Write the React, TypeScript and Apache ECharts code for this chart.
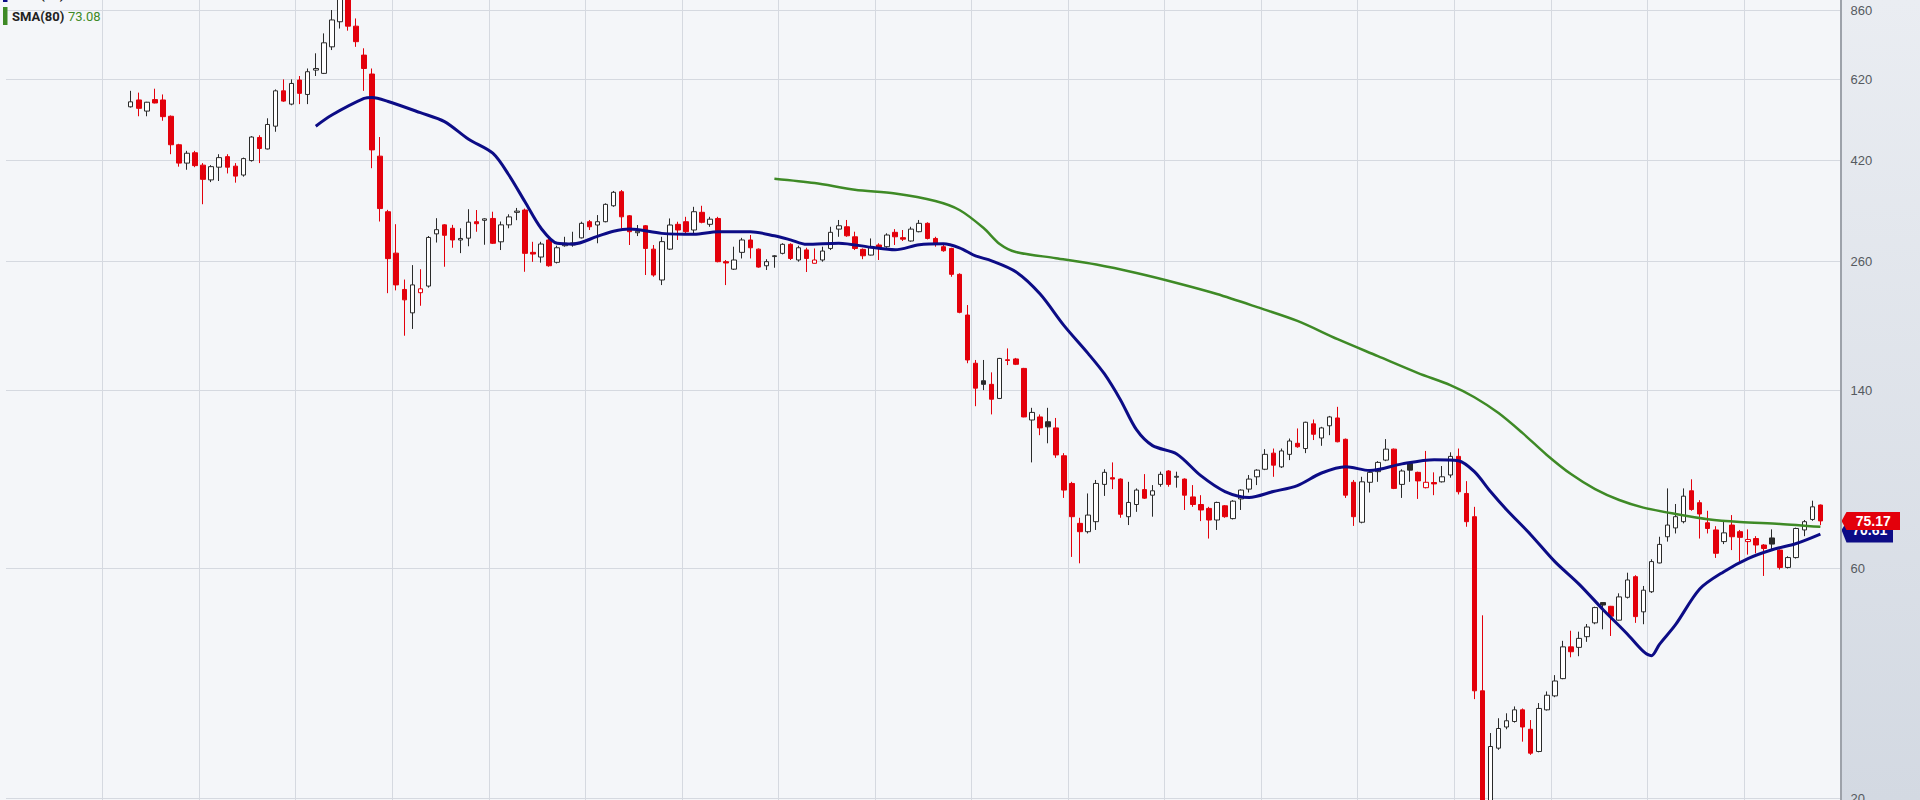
import { useEffect, useRef } from "react";
import * as echarts from "echarts";

const PAD_LEFT = 15;
const PAD_RIGHT = 2;

// weekly candles: [open, high, low, close]
const ohlc: number[][] = [
  [543, 586, 541, 556], [561, 581, 519, 539], [532, 556, 519, 555], [562, 592, 552, 553],
  [561, 576, 508, 518], [519, 521, 433, 453], [453, 455, 408, 415], [415, 440, 402, 435],
  [436, 440, 407, 410], [411, 415, 341, 384], [383, 411, 379, 408], [407, 433, 381, 426],
  [428, 433, 395, 407], [409, 415, 378, 390], [392, 426, 389, 424], [420, 472, 418, 470],
  [469, 474, 415, 445], [444, 514, 443, 499], [495, 590, 482, 586], [586, 619, 556, 558],
  [550, 619, 547, 607], [617, 629, 550, 579], [576, 652, 550, 642], [647, 701, 629, 652],
  [637, 771, 635, 737], [723, 862, 712, 822], [815, 960, 789, 915], [910, 950, 781, 798],
  [798, 828, 723, 741], [695, 718, 586, 652], [635, 652, 405, 442], [429, 470, 314, 334],
  [329, 332, 223, 263], [270, 310, 226, 232], [227, 238, 182, 216], [203, 255, 188, 232],
  [223.5, 250, 210, 227.7], [230.7, 293, 229, 291], [296, 319, 284, 302], [309, 310, 253, 294],
  [304, 309, 277, 287.5], [287.5, 304, 270, 289.6], [290, 333, 279, 313], [313.7, 331.7, 299, 310.7],
  [315.8, 319, 281, 318], [318.6, 329, 282, 283], [285, 314, 274, 309], [309, 325, 304, 321],
  [328, 335, 316, 330], [331.7, 334, 247, 269.7], [271, 285, 259, 268.8], [265, 285, 258, 282],
  [287.5, 290.4, 253, 254.2], [258.4, 279.7, 257, 277], [279.7, 291.9, 278.4, 283], [280.7, 299, 278.4, 283.5],
  [290.4, 313.7, 289.6, 311.3], [313.7, 316.3, 301.5, 306.2], [308.8, 323.8, 283, 313.7], [313.7, 342.4, 312.8, 340.8],
  [338.5, 363.3, 336.8, 361], [362, 365, 303.8, 321.1], [322.7, 323.8, 280.7, 299.1], [297.6, 308.8, 292.9, 299.7],
  [307.7, 308.8, 243.2, 276.1], [275.2, 280.7, 241.2, 243.2], [237.5, 291.9, 231.8, 285.2], [275.2, 318.6, 274, 308.8],
  [309.8, 313.7, 287.5, 301.5], [313.7, 321.1, 294.4, 299.1], [301.5, 336.8, 294.4, 329], [328.1, 338.5, 311.3, 312.8],
  [309.8, 321.1, 306.2, 317.5], [318.6, 321.1, 258.4, 259.2], [259.2, 261.3, 231.8, 257.6], [250.1, 278.4, 249.1, 261.3],
  [271, 290.4, 263.2, 287.5], [287.5, 294.4, 263.2, 277], [275.2, 276.1, 251.8, 252.6], [254.2, 262.3, 249.1, 259.2],
  [265.6, 267.4, 251.8, 266.6], [269.7, 283, 268.4, 281.6], [281.6, 283, 261.3, 263.2], [261.3, 279.7, 259.2, 277],
  [274.2, 277, 246.7, 263.2], [257.2, 276.1, 257, 261.3], [261.3, 278.4, 259.2, 272.7], [276.1, 306.2, 274, 298.2],
  [302.8, 316.3, 291.9, 307.7], [306.2, 316.3, 291.9, 293.3], [291.9, 299.1, 274, 276.1], [274.9, 276.1, 262.3, 266.6],
  [267.5, 289.6, 267, 278.4], [280.7, 283, 261.3, 277.5], [278.4, 296.8, 277, 294.4], [298.2, 302.8, 280.7, 291.9],
  [290.7, 301.5, 286.1, 288.6], [286.1, 306.2, 285.2, 302.8], [299.1, 316.3, 298.2, 311.3], [311.3, 312.8, 288.2, 289.6],
  [289.6, 291.9, 278.4, 283], [278.4, 283, 271.8, 273.1], [276.1, 277, 241.2, 244], [244, 245.2, 202.6, 203.5],
  [200.9, 210.7, 159.6, 162.1], [159.6, 162.1, 130, 141.7], [146.8, 162.1, 140.4, 144.3], [144.3, 152.8, 125, 134.4],
  [134.9, 163.7, 134.5, 163.3], [162.3, 171.3, 158.2, 161.7], [162.9, 163.7, 158.2, 158.8], [155.7, 156.1, 123.3, 123.5],
  [121.7, 129, 99.4, 126.2], [123.5, 125, 113.2, 117.2], [120.7, 129, 108.9, 117.8], [117.2, 122.9, 101.6, 103],
  [102.6, 103.9, 83.9, 87.1], [89.9, 90.6, 63.3, 76.7], [74.3, 76.3, 61.4, 71.4], [71.4, 85.7, 70.8, 77.3],
  [74.9, 91.4, 72, 89.9], [89.5, 96.2, 84.7, 94.8], [92.4, 99.4, 87.5, 91.8], [91.8, 92.1, 76.3, 77.6],
  [76.7, 90.6, 73.7, 82.1], [81.3, 87.8, 78.5, 87.1], [87.3, 94, 83.5, 83.8], [85, 89.2, 76.7, 86.8],
  [89.5, 95.1, 88.5, 93.9], [95.4, 95.8, 88.5, 89.5], [92.6, 95.1, 88.1, 93], [91.8, 92.1, 79.2, 85],
  [84.3, 89.2, 80.4, 81.3], [81.3, 85, 75.1, 79.2], [79.8, 80.4, 69.1, 75.5], [75.5, 82.4, 72, 82.1],
  [80.8, 81.1, 76.3, 76.7], [76, 83, 75.7, 82.6], [83.5, 87.4, 79.2, 87.1], [87.5, 93.6, 86.1, 91.8],
  [92.8, 96.2, 89.2, 95.8], [96.2, 105.9, 95.8, 103.3], [103.9, 106.2, 92.8, 98.1], [97.3, 106.2, 96.8, 105],
  [103.3, 111.4, 100.5, 110.1], [108.9, 116.9, 106.6, 107.1], [106.2, 120.7, 103.9, 120.4], [119.5, 122, 110.6, 113.7],
  [111.7, 117.8, 107.6, 117.2], [118.4, 124.1, 113.2, 123.5], [122.9, 129.6, 109.4, 109.7], [111, 111.4, 83.9, 85],
  [90.4, 91.4, 73.4, 76.7], [74.7, 92.8, 74.3, 90.6], [90.4, 95.8, 86.1, 94.8], [95.1, 100, 90.6, 99.4],
  [100.5, 111.1, 100, 105.9], [105.9, 106.2, 87.5, 87.8], [89.5, 96.2, 83.9, 95.4], [98.9, 99.1, 90.6, 95.8],
  [94.8, 95.1, 83.5, 91], [88.1, 105, 87.8, 90.4], [90.3, 94.8, 85, 89.7], [90.6, 97.7, 90.3, 92.8],
  [93.6, 104.3, 92.4, 102.3], [102.3, 106.2, 85.3, 86.4], [85.7, 90.9, 73.1, 74.9], [76.7, 80.4, 32.1, 33.4],
  [33.4, 47.9, 17.5, 18.6], [19, 27.3, 17.6, 25.6], [25.4, 29.3, 25.2, 27.9], [28.1, 30, 27.8, 28.95],
  [28.85, 31, 28.7, 30.5], [30.5, 30.7, 26.2, 28.1], [27.8, 29.05, 24.6, 24.8], [25, 31.5, 24.9, 30.7],
  [30.5, 33.3, 30.4, 32.7], [32.6, 36, 32.4, 35], [35.4, 42.4, 35.3, 41.2], [41.2, 44.5, 39.2, 40.25],
  [41.1, 44.3, 39.4, 42.9], [43.25, 45.95, 42.2, 45.3], [46.2, 49.9, 45.9, 49.7], [50.9, 51, 44.8, 50.3],
  [50, 50.1, 43.4, 47.7], [46.8, 53.2, 46.7, 52.3], [52.2, 58.7, 51.9, 56.7], [57.6, 58, 46.2, 47.6],
  [48.7, 55.1, 45.9, 54], [53.6, 62.6, 53.3, 61.9], [61.5, 69.7, 61.4, 67.2], [69.7, 87.8, 68.1, 73.7],
  [72.7, 81.5, 70.8, 76.7], [74.9, 87.8, 74.3, 84.6], [86.8, 91.7, 78.9, 79.4], [82, 83, 69.1, 77.7],
  [74.5, 78.9, 70.8, 72.5], [72, 73.3, 63, 64.4], [68.1, 74.9, 67.3, 71], [73.7, 77.3, 65.4, 69.7],
  [71.4, 72, 61.9, 69.5], [68.1, 72.2, 64, 68.8], [69.1, 69.9, 64.4, 67], [67, 67.3, 57.8, 65.9],
  [69.3, 72.2, 65.4, 67.3], [65.4, 65.6, 59.6, 60.2], [60.2, 63.5, 59.9, 63.1], [63.1, 72.8, 62.8, 72.5],
  [72, 75.5, 69.9, 74.9], [75.7, 82.8, 75.2, 80.4], [81.1, 81.3, 73.7, 75.17],
];

// short moving average at these candle positions
const smaShortIdx = [23, 25, 29, 30, 32, 36, 39, 42, 45, 47, 49, 51, 53, 55, 58, 60, 62, 66, 70, 73, 77, 80, 82, 84, 88, 92, 95, 98, 101, 103, 105, 107, 110, 113, 116, 119, 121, 123, 125, 127, 130, 133, 136, 139, 142, 145, 148, 151, 154, 158, 162, 165, 167, 169, 171, 174, 177, 180, 183, 186, 188, 189, 190, 192, 195, 198, 201, 204, 207, 210];
const smaShortVal = [495, 522, 565, 567.7, 557, 528, 506, 465, 435, 392, 345, 304, 283, 282, 292.5, 299.7, 303, 296.7, 295.3, 299, 299, 293.3, 287.7, 281.6, 283.2, 277.6, 274.3, 281, 282.3, 276.9, 266.4, 260.3, 247, 222.3, 191, 167.1, 151.8, 134.1, 116.2, 107.7, 103.5, 93.3, 86.5, 84.1, 86.5, 89, 94.5, 97.4, 95.6, 98.7, 100.7, 100.2, 95.1, 86.5, 79.3, 70.4, 61.9, 55.6, 49.2, 43.8, 40.3, 39.5, 41.7, 45.8, 54.3, 59, 62.8, 65.5, 67.5, 70.61];

// long moving average
const smaLongIdx = [80, 85, 90, 95, 100, 103, 106, 108, 110, 115, 120, 125, 130, 135, 140, 145, 150, 155, 160, 164, 167, 170, 173, 176, 179, 182, 185, 188, 192, 196, 200, 205, 210];
const smaLongVal = [385.2, 377.3, 365.5, 358.9, 346.2, 331.7, 304.3, 282, 271.4, 263.6, 255.7, 245.5, 234.1, 222.1, 208.6, 195.3, 179, 165.1, 152.3, 143.8, 135.7, 125.8, 114.3, 103, 94, 87.5, 83.05, 80.1, 77.7, 75.8, 74.8, 74.1, 73.08];

const yTickValues = [860, 620, 420, 260, 140, 60, 20];
const Y_MIN = 19.83;
const Y_MAX = 904.2;
const LAST_CLOSE = 75.17;
const SMA_SHORT_LAST = 70.61;
const SMA_LONG_LAST = 73.08;
const SMA_SHORT_NAME = "SMA(20)";
const SMA_LONG_NAME = "SMA(80)";

const RED = "#e3000b";
const DARK = "#2a2a2a";
const NAVY = "#0c0c86";
const GREEN = "#3e8a26";
const PLOT_BG = "#f4f6f9";

export default function App() {
  const ref = useRef<HTMLDivElement>(null);
  useEffect(() => {
    const el = ref.current!;
    const chart = echarts.init(el, null, { renderer: "svg" });
    const total = PAD_LEFT + ohlc.length + PAD_RIGHT;
    const cats = Array.from({ length: total }, (_, k) => String(k - PAD_LEFT));
    const candleData: any[] = [];
    for (let k = 0; k < total; k++) {
      const i = k - PAD_LEFT;
      if (i < 0 || i >= ohlc.length) {
        candleData.push(["-", "-", "-", "-"]);
        continue;
      }
      const [o, h, l, c] = ohlc[i];
      const prev = i > 0 ? ohlc[i - 1][3] : o;
      const stroke = c >= prev ? DARK : RED;
      const fill = c > o ? "#ffffff" : stroke;
      candleData.push({
        value: [Math.log(o), Math.log(c), Math.log(l), Math.log(h)],
        itemStyle: { color: fill, color0: fill, borderColor: stroke, borderColor0: stroke, borderColorDoji: stroke },
      });
    }
    const lineArr = (idx: number[], val: number[]) => {
      const arr: (number | null)[] = new Array(total).fill(null);
      idx.forEach((i, n) => {
        arr[i + PAD_LEFT] = Math.log(val[n]);
      });
      return arr;
    };
    const logTicks = yTickValues.map((v) => Math.log(v));
    const axisX = 1840.5;

    chart.setOption({
      animation: false,
      backgroundColor: "transparent",
      grid: {
        left: 6,
        right: 1920 - axisX,
        top: 0,
        bottom: 0,
        show: false,
        outerBoundsMode: "none",
      },
      xAxis: {
        type: "category",
        data: cats,
        boundaryGap: true,
        axisLine: { show: false },
        axisTick: { show: false },
        axisLabel: { show: false },
        splitLine: {
          show: true,
          interval: (index: number) => {
            const i = index - PAD_LEFT;
            return i >= -3 && (i - 9) % 12 === 0;
          },
          lineStyle: { color: "#d5d9e0", width: 1 },
        },
      },
      yAxis: {
        type: "value",
        position: "right",
        min: Math.log(Y_MIN),
        max: Math.log(Y_MAX),
        axisLine: { show: true, lineStyle: { color: "#9da2aa", width: 2 } },
        axisTick: { show: false, customValues: logTicks },
        axisLabel: {
          customValues: logTicks,
          formatter: (v: number) => String(Math.round(Math.exp(v))),
          color: "#555a60",
          fontSize: 13,
          fontFamily: "Liberation Sans, Arial, sans-serif",
          margin: 10,
        },
        splitLine: { show: true, lineStyle: { color: "#d5d9e0", width: 1 } },
      },
      series: [
        {
          type: "candlestick",
          data: candleData,
          barWidth: 5,
          itemStyle: { borderWidth: 1 },
        },
        {
          type: "line",
          data: lineArr(smaLongIdx, smaLongVal),
          connectNulls: true,
          smooth: 0.3,
          showSymbol: false,
          symbol: "none",
          lineStyle: { color: GREEN, width: 2.5 },
        },
        {
          type: "line",
          data: lineArr(smaShortIdx, smaShortVal),
          connectNulls: true,
          smooth: 0.3,
          showSymbol: false,
          symbol: "none",
          lineStyle: { color: NAVY, width: 3 },
        },
      ],
    });

    const yPix = (v: number) => chart.convertToPixel({ yAxisIndex: 0 }, Math.log(v)) as number;
    const tag = (cy: number, top: number, bottom: number, textDy: number, right: number, color: string, label: string) => ({
      type: "group",
      z: 50,
      children: [
        {
          type: "polygon",
          shape: {
            points: [
              [axisX + 1, cy + textDy],
              [axisX + 6, cy + top],
              [right, cy + top],
              [right, cy + bottom],
              [axisX + 6, cy + bottom],
            ],
          },
          style: { fill: color },
        },
        {
          type: "text",
          x: (axisX + 6 + right) / 2,
          y: cy + textDy,
          style: {
            text: label,
            fill: "#ffffff",
            font: "bold 14px Liberation Sans, Arial, sans-serif",
            align: "center",
            verticalAlign: "middle",
          },
        },
      ],
    });

    chart.setOption({
      graphic: [
        {
          type: "rect",
          z: -2,
          shape: { x: 0, y: 0, width: axisX, height: 800 },
          style: { fill: PLOT_BG },
        },
        {
          type: "rect",
          z: -1,
          shape: { x: axisX, y: 0, width: 1920 - axisX, height: 800 },
          style: {
            fill: {
              type: "linear",
              x: 0,
              y: 0,
              x2: 0,
              y2: 1,
              colorStops: [
                { offset: 0, color: "#eaedf2" },
                { offset: 1, color: "#d3d9e2" },
              ],
            },
          },
        },
        tag(yPix(SMA_SHORT_LAST), -12, 8.5, -4, 1893, NAVY, SMA_SHORT_LAST.toFixed(2)),
        tag(yPix(LAST_CLOSE), -9, 9, 0, 1900, RED, LAST_CLOSE.toFixed(2)),
        { type: "rect", z: 50, shape: { x: 3, y: -11, width: 4.5, height: 13 }, style: { fill: NAVY } },
        {
          type: "text",
          z: 50,
          x: 12,
          y: 1,
          style: { text: SMA_SHORT_NAME, fill: "#222", font: "bold 13px Roboto, sans-serif", verticalAlign: "bottom" },
        },
        {
          type: "text",
          z: 50,
          x: 68,
          y: 1,
          style: { text: SMA_SHORT_LAST.toFixed(2), fill: NAVY, font: "13px Roboto, sans-serif", verticalAlign: "bottom" },
        },
        { type: "rect", z: 50, shape: { x: 3, y: 7, width: 4.5, height: 18 }, style: { fill: GREEN } },
        {
          type: "text",
          z: 50,
          x: 12,
          y: 16.5,
          style: { text: SMA_LONG_NAME, fill: "#222", font: "bold 13px Roboto, sans-serif", verticalAlign: "middle" },
        },
        {
          type: "text",
          z: 50,
          x: 68,
          y: 16.5,
          style: { text: SMA_LONG_LAST.toFixed(2), fill: GREEN, font: "13px Roboto, sans-serif", verticalAlign: "middle" },
        },
      ],
    });

    return () => chart.dispose();
  }, []);
  return <div ref={ref} style={{ position: "absolute", left: 0, top: 0, width: 1920, height: 800 }} />;
}
